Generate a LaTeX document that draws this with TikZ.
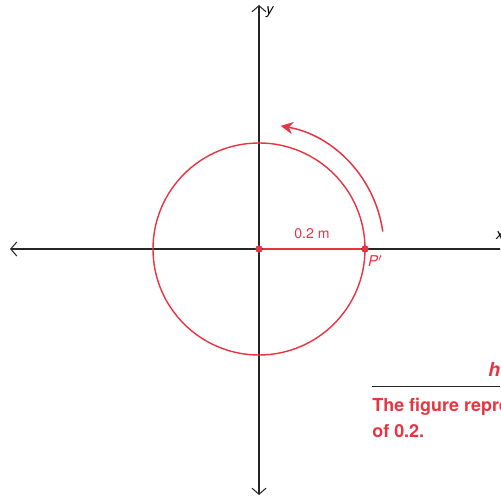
\documentclass[tikz,border=0pt]{standalone}
\usepackage{fontspec}
\setmainfont{TeX Gyre Heros}
\usetikzlibrary{arrows.meta,positioning}
\definecolor{arcred}{RGB}{232,52,66}

\begin{document}
\begin{tikzpicture}[x=0.02cm,y=0.02cm,
  axis/.style={draw=black!85,line width=0.6pt,
    {Straight Barb[length=3.5pt,width=8pt]}-{Straight Barb[length=3.5pt,width=8pt]}},
  rline/.style={draw=arcred,line width=0.8pt},
  dot/.style={circle,fill=arcred,inner sep=0pt,minimum size=4.2pt},
  lab/.style={font=\fontsize{8.5}{10}\selectfont\itshape,inner sep=1pt}]
  \useasboundingbox (0,0) rectangle (500,500);
  \clip (0,0) rectangle (500,500);
  % axes
  \coordinate (O) at (259,251);
  \coordinate (L) at (10,251);  \coordinate (R) at (514,251);
  \coordinate (B) at (259,5);   \coordinate (T) at (259,495);
  \draw[axis] (L) -- (R);
  \draw[axis] (B) -- (T);
  \node[lab,anchor=west] (ylab) at (264,488) {y};
  \node[lab,anchor=west] (xlab) at (494,264) {x};
  % circle, radius and rotation
  \draw[rline] (O) circle (106);
  \node[dot] (c) at (O) {};
  \node[dot] (P) at (365,251) {};
  \draw[rline] (c) -- (P) node[midway,above=2pt,text=arcred,
    font=\fontsize{8}{10}\selectfont] (r) {0.2 m};
  \node[lab,text=arcred,below right=1pt and -1pt of P] (plab) {P$'$};
  \draw[rline,line width=0.85pt,-{Stealth[length=7pt,width=7pt]}]
    (O) ++(8:125) arc (8:80:125);
  % caption
  \coordinate (h1) at (372,114); \coordinate (h2) at (500,114);
  \draw[black!85,line width=0.5pt] (h1) -- (h2);
  \node[anchor=base west,text=arcred,inner sep=0pt,
    font=\fontsize{11}{13}\selectfont\bfseries\itshape] (head) at (488,123) {h};
  \node[anchor=north west,text=arcred,inner sep=0pt,align=left,
    font=\fontsize{10.2}{14.7}\selectfont\bfseries] (cap) at (372,102)
    {The figure repre\\of 0.2.};
\end{tikzpicture}
\end{document}
